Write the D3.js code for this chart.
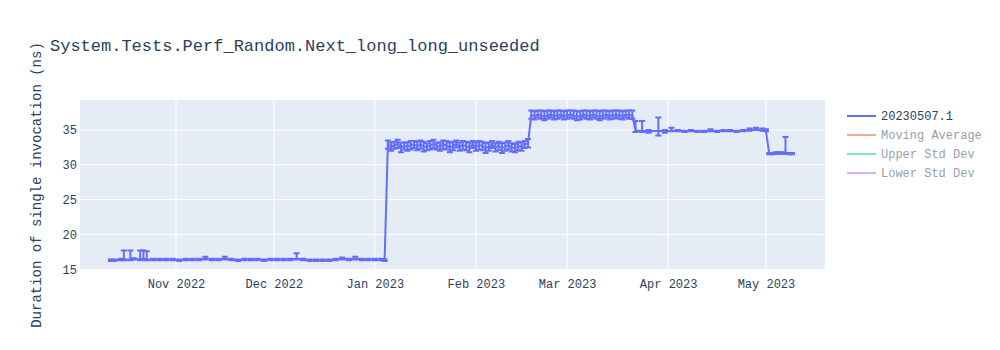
<!DOCTYPE html>
<html>
<head>
<meta charset="utf-8">
<script src="https://cdn.jsdelivr.net/npm/d3@7"></script>
<style>
  body { margin: 0; background: #fff; }
  text { font-family: "Liberation Mono", "Courier New", monospace; }
</style>
</head>
<body>
<script>
const W = 1000;
const H = 350;
const margin = { top: 100, right: 175, bottom: 80, left: 80 };

const title = "System.Tests.Perf_Random.Next_long_long_unseeded";
const yTitle = "Duration of single invocation (ns)";
const seriesNames = ["20230507.1", "Moving Average", "Upper Std Dev", "Lower Std Dev"];
const seriesColors = ["#636efa", "#ef553b", "#00cc96", "#ab63fa"];
const seriesHidden = [false, true, true, true];
const yTicks = [15, 20, 25, 30, 35];
const xTicks = ["2022-11-01", "2022-12-01", "2023-01-01", "2023-02-01", "2023-03-01", "2023-04-01", "2023-05-01"];

// run dates, mean durations and error bar sizes (plus / minus)
const dates = [
  "2022-10-12", "2022-10-13", "2022-10-15", "2022-10-16", "2022-10-18", "2022-10-19", "2022-10-21", "2022-10-22",
  "2022-10-23", "2022-10-25", "2022-10-27", "2022-10-29", "2022-10-31", "2022-11-02", "2022-11-04", "2022-11-06",
  "2022-11-08", "2022-11-10", "2022-11-12", "2022-11-14", "2022-11-16", "2022-11-18", "2022-11-20", "2022-11-22",
  "2022-11-24", "2022-11-26", "2022-11-28", "2022-11-30", "2022-12-02", "2022-12-04", "2022-12-06", "2022-12-08",
  "2022-12-10", "2022-12-12", "2022-12-14", "2022-12-16", "2022-12-18", "2022-12-20", "2022-12-22", "2022-12-24",
  "2022-12-26", "2022-12-28", "2022-12-30", "2023-01-01", "2023-01-03", "2023-01-04",
  "2023-01-05", "2023-01-06", "2023-01-07", "2023-01-08", "2023-01-09", "2023-01-10", "2023-01-11", "2023-01-12",
  "2023-01-13", "2023-01-14", "2023-01-15", "2023-01-16", "2023-01-17", "2023-01-18", "2023-01-19", "2023-01-20",
  "2023-01-21", "2023-01-22", "2023-01-23", "2023-01-24", "2023-01-25", "2023-01-26", "2023-01-27", "2023-01-28",
  "2023-01-29", "2023-01-30", "2023-01-31", "2023-02-01", "2023-02-02", "2023-02-03", "2023-02-04", "2023-02-05",
  "2023-02-06", "2023-02-07", "2023-02-08", "2023-02-09", "2023-02-10", "2023-02-11", "2023-02-12", "2023-02-13",
  "2023-02-14", "2023-02-15", "2023-02-16", "2023-02-17",
  "2023-02-18", "2023-02-19", "2023-02-20", "2023-02-21", "2023-02-22", "2023-02-23", "2023-02-24", "2023-02-25",
  "2023-02-26", "2023-02-27", "2023-02-28", "2023-03-01", "2023-03-02", "2023-03-03", "2023-03-04", "2023-03-05",
  "2023-03-06", "2023-03-07", "2023-03-08", "2023-03-09", "2023-03-10", "2023-03-11", "2023-03-12", "2023-03-13",
  "2023-03-14", "2023-03-15", "2023-03-16", "2023-03-17", "2023-03-18", "2023-03-19", "2023-03-20", "2023-03-21",
  "2023-03-22", "2023-03-24", "2023-03-26", "2023-03-29", "2023-03-31", "2023-04-02", "2023-04-04", "2023-04-06",
  "2023-04-08", "2023-04-10", "2023-04-12", "2023-04-14", "2023-04-16", "2023-04-18", "2023-04-20", "2023-04-22",
  "2023-04-24", "2023-04-26", "2023-04-28", "2023-04-30", "2023-05-01",
  "2023-05-02", "2023-05-03", "2023-05-04", "2023-05-05", "2023-05-06", "2023-05-07", "2023-05-08", "2023-05-09"
];
const values = [
  16.3, 16.3, 16.4, 16.4, 16.4, 16.5, 16.4, 16.5,
  16.4, 16.4, 16.4, 16.4, 16.4, 16.3, 16.4, 16.4,
  16.4, 16.5, 16.4, 16.4, 16.5, 16.4, 16.3, 16.4,
  16.4, 16.4, 16.3, 16.4, 16.4, 16.4, 16.4, 16.5,
  16.4, 16.3, 16.3, 16.3, 16.3, 16.4, 16.5, 16.4,
  16.5, 16.4, 16.4, 16.4, 16.4, 16.3,
  32.9, 32.6, 32.8, 33.0, 32.5, 32.7, 32.6, 32.8,
  32.9, 32.7, 32.9, 32.6, 32.6, 32.8, 33.0, 32.7,
  32.6, 32.9, 32.8, 32.5, 32.7, 33.0, 32.6, 32.8,
  32.7, 32.5, 32.9, 32.6, 32.8, 32.7, 32.4, 32.6,
  32.9, 32.5, 32.7, 32.4, 32.6, 32.8, 32.5, 32.4,
  32.7, 32.6, 32.9, 33.1,
  37.1, 37.0, 37.2, 37.1, 36.9, 37.1, 37.2, 37.0,
  37.1, 37.2, 37.0, 37.1, 37.2, 37.1, 36.9, 37.0,
  37.2, 37.1, 37.0, 37.2, 37.1, 36.9, 37.1, 37.2,
  37.0, 37.1, 37.2, 37.1, 37.0, 37.2, 37.1, 37.1,
  34.9, 34.9, 34.8, 34.9, 34.8, 34.9, 34.9, 34.8,
  34.9, 34.8, 34.8, 34.9, 34.8, 34.9, 34.9, 34.8,
  34.9, 35.0, 35.1, 35.0, 34.9,
  31.6, 31.6, 31.7, 31.7, 31.7, 31.7, 31.6, 31.6
];
const errPlus = [
  0.1, 0.1, 0.1, 1.3, 1.3, 0.1, 1.3, 1.2,
  1.2, 0.1, 0.1, 0.1, 0.1, 0.1, 0.1, 0.1,
  0.1, 0.3, 0.1, 0.1, 0.3, 0.1, 0.1, 0.1,
  0.1, 0.1, 0.1, 0.1, 0.1, 0.1, 0.1, 0.8,
  0.1, 0.1, 0.1, 0.1, 0.1, 0.1, 0.2, 0.1,
  0.3, 0.1, 0.1, 0.1, 0.1, 0.1,
  0.6, 0.6, 0.5, 0.6, 0.7, 0.5, 0.6, 0.6,
  0.5, 0.6, 0.6, 0.7, 0.5, 0.6, 0.6, 0.5,
  0.6, 0.6, 0.6, 0.7, 0.6, 0.5, 0.6, 0.6,
  0.6, 0.7, 0.5, 0.6, 0.6, 0.6, 0.7, 0.6,
  0.5, 0.6, 0.6, 0.7, 0.6, 0.6, 0.6, 0.6,
  0.6, 0.6, 0.5, 0.6,
  0.7, 0.7, 0.6, 0.7, 0.8, 0.7, 0.6, 0.7,
  0.7, 0.6, 0.7, 0.7, 0.6, 0.7, 0.8, 0.7,
  0.6, 0.7, 0.7, 0.6, 0.7, 0.8, 0.7, 0.6,
  0.7, 0.7, 0.6, 0.7, 0.7, 0.6, 0.7, 0.7,
  1.4, 1.4, 0.2, 1.9, 0.2, 0.4, 0.1, 0.1,
  0.1, 0.1, 0.1, 0.2, 0.1, 0.1, 0.1, 0.1,
  0.1, 0.2, 0.2, 0.2, 0.2,
  0.1, 0.1, 0.1, 0.1, 0.1, 2.3, 0.1, 0.1
];
const errMinus = [
  0.1, 0.1, 0.1, 0.1, 0.1, 0.1, 0.1, 0.1,
  0.1, 0.1, 0.1, 0.1, 0.1, 0.1, 0.1, 0.1,
  0.1, 0.1, 0.1, 0.1, 0.1, 0.1, 0.1, 0.1,
  0.1, 0.1, 0.1, 0.1, 0.1, 0.1, 0.1, 0.1,
  0.1, 0.1, 0.1, 0.1, 0.1, 0.1, 0.1, 0.1,
  0.1, 0.1, 0.1, 0.1, 0.1, 0.1,
  0.6, 0.6, 0.5, 0.6, 0.7, 0.5, 0.6, 0.6,
  0.5, 0.6, 0.6, 0.7, 0.5, 0.6, 0.6, 0.5,
  0.6, 0.6, 0.6, 0.7, 0.6, 0.5, 0.6, 0.6,
  0.6, 0.7, 0.5, 0.6, 0.6, 0.6, 0.7, 0.6,
  0.5, 0.6, 0.6, 0.7, 0.6, 0.6, 0.6, 0.6,
  0.6, 0.6, 0.5, 0.6,
  0.5, 0.5, 0.4, 0.5, 0.5, 0.5, 0.4, 0.5,
  0.5, 0.4, 0.5, 0.5, 0.4, 0.5, 0.5, 0.5,
  0.4, 0.5, 0.5, 0.4, 0.5, 0.5, 0.5, 0.4,
  0.5, 0.5, 0.4, 0.5, 0.5, 0.4, 0.5, 0.5,
  0.2, 0.2, 0.2, 0.7, 0.2, 0.1, 0.1, 0.1,
  0.1, 0.1, 0.1, 0.1, 0.1, 0.1, 0.1, 0.1,
  0.1, 0.1, 0.1, 0.1, 0.1,
  0.1, 0.1, 0.1, 0.1, 0.1, 0.1, 0.1, 0.1
];

const parse = d3.timeParse("%Y-%m-%d");
const points = dates.map((d, i) => ({
  date: parse(d), value: values[i], up: errPlus[i], down: errMinus[i]
}));

const plotW = W - margin.left - margin.right;
const plotH = H - margin.top - margin.bottom;

const x = d3.scaleTime()
  .domain([new Date(2022, 9, 2, 13), new Date(2023, 4, 19, 3)])
  .range([0, plotW]);
const y = d3.scaleLinear()
  .domain([14.9, 39.3])
  .range([plotH, 0]);

const svg = d3.select("body").append("svg")
  .attr("width", W)
  .attr("height", H);

svg.append("text")
  .attr("x", 50)
  .attr("y", 51)
  .attr("font-size", 17)
  .attr("fill", "#2a3f5f")
  .text(title);

const g = svg.append("g")
  .attr("transform", `translate(${margin.left},${margin.top})`);

g.append("rect")
  .attr("width", plotW)
  .attr("height", plotH)
  .attr("fill", "#e5ecf6");

// grid
g.selectAll(".ygrid").data(yTicks).enter().append("line")
  .attr("x1", 0).attr("x2", plotW)
  .attr("y1", d => y(d)).attr("y2", d => y(d))
  .attr("stroke", "#fff").attr("stroke-width", 1);

g.selectAll(".xgrid").data(xTicks).enter().append("line")
  .attr("x1", d => x(parse(d))).attr("x2", d => x(parse(d)))
  .attr("y1", 0).attr("y2", plotH)
  .attr("stroke", "#fff").attr("stroke-width", 1);

// axes
const xAxis = g.append("g")
  .attr("transform", `translate(0,${plotH})`)
  .call(d3.axisBottom(x).tickValues(xTicks.map(parse)).tickFormat(d3.timeFormat("%b %Y")).tickSize(0).tickPadding(9));
const yAxis = g.append("g")
  .call(d3.axisLeft(y).tickValues(yTicks).tickSize(0).tickPadding(3));
[xAxis, yAxis].forEach(a => {
  a.select(".domain").remove();
  a.selectAll("text")
    .attr("font-family", "Liberation Mono, Courier New, monospace")
    .attr("font-size", 12)
    .attr("fill", "#2a3f5f");
});

svg.append("text")
  .attr("transform", `translate(41,${margin.top + plotH / 2}) rotate(-90)`)
  .attr("text-anchor", "middle")
  .attr("font-size", 14)
  .attr("fill", "#2a3f5f")
  .text(yTitle);

// error bars
const cap = 3;
const err = g.append("g")
  .attr("stroke", seriesColors[0])
  .attr("stroke-width", 2)
  .attr("fill", "none");
err.selectAll("path").data(points).enter().append("path")
  .attr("d", d => {
    const px = x(d.date);
    const top = y(d.value + d.up);
    const bot = y(d.value - d.down);
    return `M${px - cap},${top}h${2 * cap}M${px},${top}V${bot}M${px - cap},${bot}h${2 * cap}`;
  });

// main line
const line = d3.line()
  .x(d => x(d.date))
  .y(d => y(d.value));
g.append("path")
  .datum(points)
  .attr("d", line)
  .attr("fill", "none")
  .attr("stroke", seriesColors[0])
  .attr("stroke-width", 2)
  .attr("stroke-linejoin", "round");

// legend
const legend = svg.append("g")
  .attr("transform", "translate(847,116)");
const item = legend.selectAll("g").data(seriesNames).enter().append("g")
  .attr("transform", (d, i) => `translate(0,${i * 19})`)
  .attr("opacity", (d, i) => seriesHidden[i] ? 0.5 : 1);
item.append("line")
  .attr("x1", 0).attr("x2", 29)
  .attr("stroke", (d, i) => seriesColors[i])
  .attr("stroke-width", 2);
item.append("text")
  .attr("x", 34)
  .attr("y", 4)
  .attr("font-size", 12)
  .attr("fill", "#2a3f5f")
  .text(d => d);
</script>
</body>
</html>
